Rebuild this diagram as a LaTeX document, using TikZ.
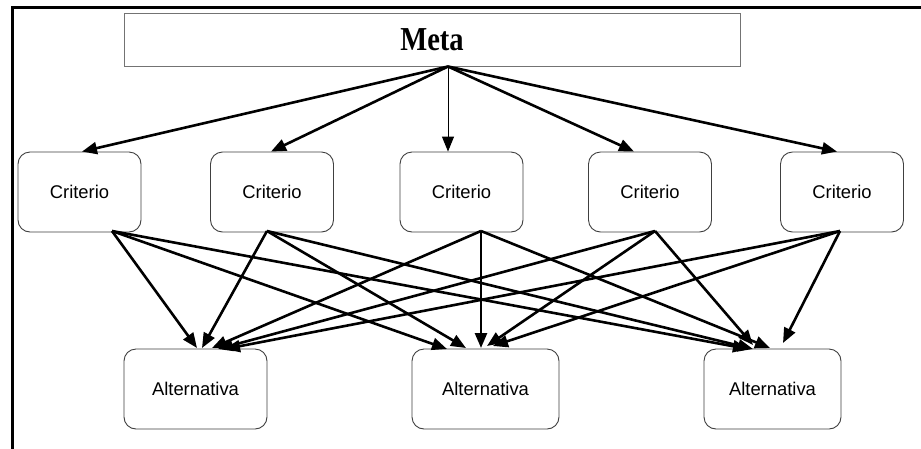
\documentclass[tikz,border=0pt]{standalone}
\usepackage{fontspec}
\setmainfont{Liberation Serif}
\newfontfamily\arialf{Liberation Sans}
\usetikzlibrary{arrows.meta,calc}
\begin{document}
\begin{tikzpicture}[x=1pt,y=-1pt,
 crit/.style={draw=black!75, line width=0.9pt, rounded corners=12pt, minimum width=123pt, minimum height=80pt, inner sep=0pt, font=\arialf\fontsize{18.4}{22}\selectfont},
 conn/.style={line width=2.6pt, -{Triangle[length=15pt,width=12pt]}},
 thinconn/.style={line width=1pt, -{Triangle[length=15pt,width=12pt]}},
]
\useasboundingbox (0,0) rectangle (921,448);
\fill[white] (0,0) rectangle (921,448);
\draw[line width=3pt] (12,449) -- (12,7) -- (922,7);

\node[draw=black!55, line width=0.9pt, minimum width=616pt, minimum height=53pt, inner sep=0pt, font=\bfseries\fontsize{31}{36}\selectfont] (meta) at (432,39.5) {\raisebox{-3pt}{\scalebox{0.92}[1.08]{Meta}}};

\node[crit] (c1) at (79.5,192) {Criterio};
\node[crit] (c2) at (272,192) {Criterio};
\node[crit] (c3) at (461.5,192) {Criterio};
\node[crit] (c4) at (650,192) {Criterio};
\node[crit] (c5) at (842,192) {Criterio};

\node[crit, minimum width=143pt] (a1) at (195.5,389) {Alternativa};
\node[crit, minimum width=147pt] (a2) at (485.5,389) {Alternativa};
\node[crit, minimum width=137pt] (a3) at (772.5,389) {Alternativa};

% source points
\coordinate (m0) at (448,66.5);
\coordinate (s1) at (112,231);
\coordinate (s2) at (267,231);
\coordinate (s3) at (481,231);
\coordinate (s4) at (655,231);
\coordinate (s5) at (840,231);

% Meta -> criteria
\draw[conn] (m0) -- (c1.north -| 82,0);
\draw[conn] (m0) -- (c2.north -| 271,0);
\draw[thinconn] (m0) -- (c3.north -| m0);
\draw[conn] (m0) -- (c4.north -| 634,0);
\draw[conn] (m0) -- (c5.north -| 837,0);

% criteria -> alternative 1
\draw[conn] (s1) -- (197,348);
\draw[conn] (s2) -- (202,348);
\draw[conn] (s3) -- (212,348);
\draw[conn] (s4) -- (218,349);
\draw[conn] (s5) -- (225,349);

% criteria -> alternative 2
\draw[conn] (s1) -- (447,349);
\draw[conn] (s2) -- (466,348);
\draw[conn] (s3) -- (481,348);
\draw[conn] (s4) -- (487,346);
\draw[conn] (s5) -- (493,346);

% criteria -> alternative 3
\draw[conn] (s1) -- (748,349);
\draw[conn] (s2) -- (753,349);
\draw[conn] (s3) -- (770,348);
\draw[conn] (s4) -- (753,345);
\draw[conn] (s5) -- (783,343);
\end{tikzpicture}
\end{document}
